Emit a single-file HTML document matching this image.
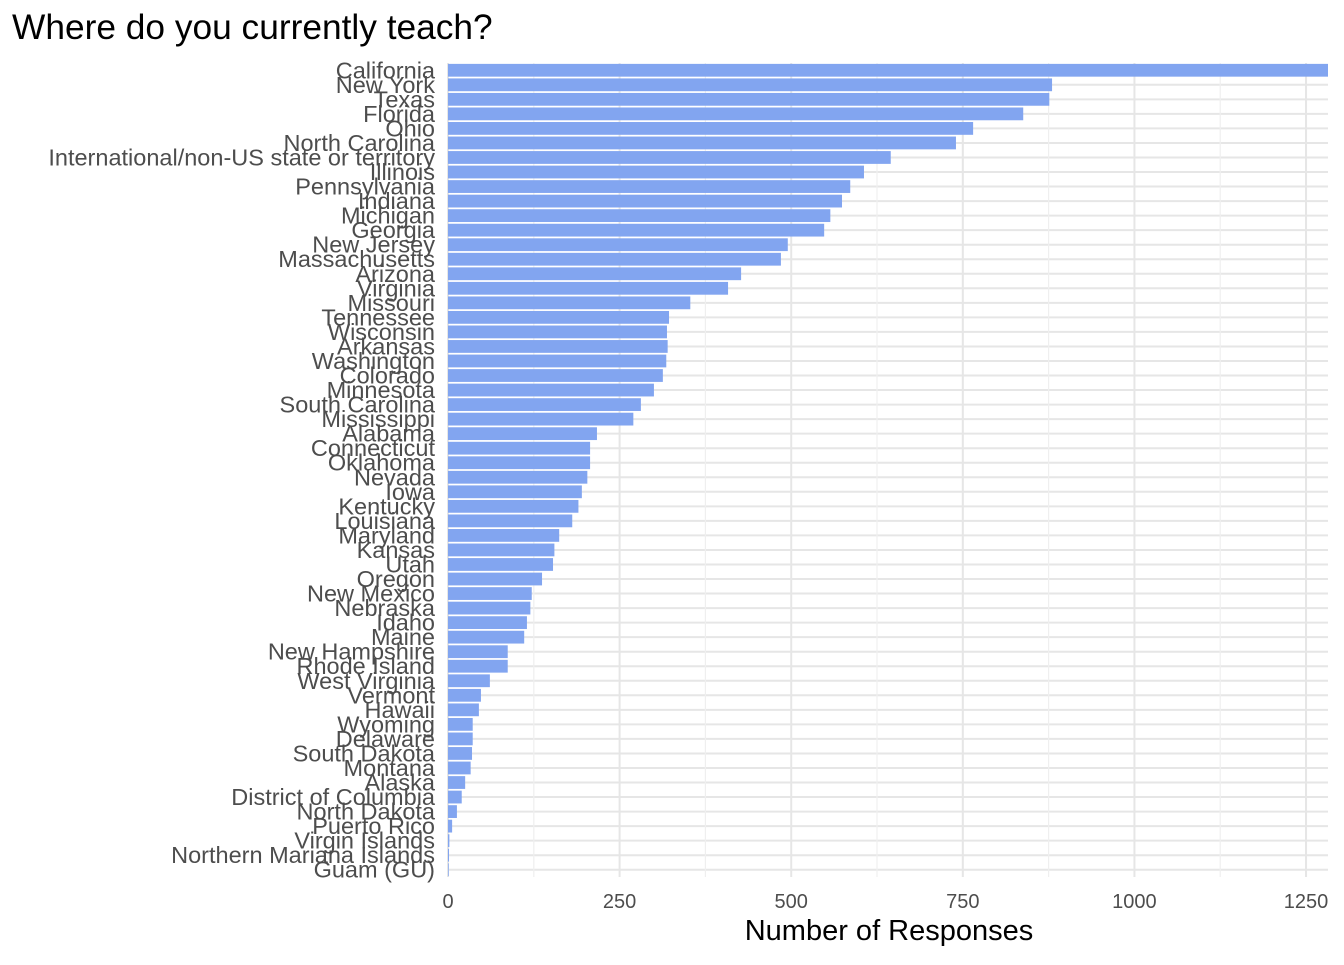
<!DOCTYPE html>
<html><head><meta charset="utf-8">
<style>
html,body{margin:0;padding:0;background:#fff;}
svg text{font-family:"Liberation Sans",Arial,sans-serif;}
</style></head>
<body>
<svg id="chart" width="1344" height="960" xmlns="http://www.w3.org/2000/svg">
<text x="12" y="39" font-size="35.3" fill="#000">Where do you currently teach?</text>
<g id="grid"></g>
<g id="bars"></g>
<g id="ylabels"></g>
<g id="xlabels"></g>
<text x="889" y="940" font-size="29" fill="#000" text-anchor="middle">Number of Responses</text>
</svg>
<script>
const categories = ["California","New York","Texas","Florida","Ohio","North Carolina","International/non-US state or territory","Illinois","Pennsylvania","Indiana","Michigan","Georgia","New Jersey","Massachusetts","Arizona","Virginia","Missouri","Tennessee","Wisconsin","Arkansas","Washington","Colorado","Minnesota","South Carolina","Mississippi","Alabama","Connecticut","Oklahoma","Nevada","Iowa","Kentucky","Louisiana","Maryland","Kansas","Utah","Oregon","New Mexico","Nebraska","Idaho","Maine","New Hampshire","Rhode Island","West Virginia","Vermont","Hawaii","Wyoming","Delaware","South Dakota","Montana","Alaska","District of Columbia","North Dakota","Puerto Rico","Virgin Islands","Northern Mariana Islands","Guam\u00a0(GU)"];
const values = [1282,880,876,838,765,740,645,606,586,574,557,548,495,485,427,408,353,322,319,320,318,313,300,281,270,217,207,207,203,195,190,181,162,155,153,137,122,120,115,111,87,87,61,48,45,36,36,35,33,25,20,13,6,2,1.5,1];
const xTicks = [0,250,500,750,1000,1250];
const xTickLabels = ["0","250","500","750","1000","1250"];

const NS="http://www.w3.org/2000/svg";
const pLeft=448, pRight=1328, pTop=63, pBottom=877;
const xMax=1282;
const xs=v=>pLeft+v*(pRight-pLeft)/xMax;
const step=(pBottom-pTop)/categories.length;
const ys=i=>pTop+step*(i+0.5);
function mk(tag,attrs,parent){const e=document.createElementNS(NS,tag);for(const k in attrs)e.setAttribute(k,attrs[k]);parent.appendChild(e);return e;}
const grid=document.getElementById('grid');
categories.forEach((c,i)=>{
  const l=mk('line',{x1:pLeft,x2:pRight,y1:ys(i),y2:ys(i),stroke:'#e6e6e6','stroke-width':2},grid);
  
  
});
xTicks.forEach((t,i)=>{
  if(i<xTicks.length-1){
    const m=mk('line',{x1:xs(t+125),x2:xs(t+125),y1:pTop,y2:pBottom,stroke:'#efefef','stroke-width':1.2},grid);
    
    
  }
  const l=mk('line',{x1:xs(t),x2:xs(t),y1:pTop,y2:pBottom,stroke:'#e6e6e6','stroke-width':2},grid);
  
  
  const tx=mk('text',{x:xs(t),y:908,'font-size':20,fill:'#4d4d4d','text-anchor':'middle'},document.getElementById('xlabels'));
  tx.textContent=xTickLabels[i];
  
  
});
const bars=document.getElementById('bars'), yl=document.getElementById('ylabels');
const bh=step*0.88;
categories.forEach((c,i)=>{
  const r=mk('rect',{x:pLeft,y:ys(i)-bh/2,width:Math.max(0,xs(values[i])-pLeft),height:bh,fill:'#82a5f0'},bars);
  
  
  const t=mk('text',{x:435,y:ys(i)+8,'font-size':23.5,fill:'#4d4d4d','text-anchor':'end'},yl);
  t.textContent=c;
  
  
});
</script>
</body></html>
